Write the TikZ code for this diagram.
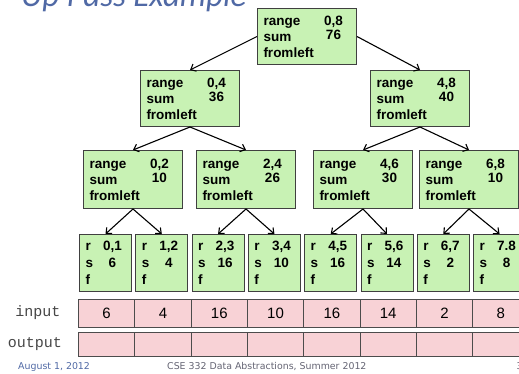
\documentclass[tikz,border=0pt]{standalone}
\usepackage{fontspec}
\setmainfont{Liberation Sans}
\newfontfamily\monofont{Liberation Mono}
\newfontfamily\footfont{DejaVu Sans}
\newfontfamily\titlefont{Carlito}
\usetikzlibrary{arrows.meta}
\definecolor{nodegreen}{RGB}{200,242,180}
\definecolor{cellpink}{RGB}{248,210,214}
\definecolor{titleblue}{RGB}{80,105,165}
\definecolor{footgray}{RGB}{100,100,115}
\definecolor{labelgray}{RGB}{70,70,70}
\newcommand\trow[2]{\makebox[56pt][l]{#1}\makebox[28pt]{#2}}
\newcommand\lrow[2]{\makebox[14pt][l]{#1}\makebox[26pt]{#2}}
\begin{document}
\begin{tikzpicture}[x=1pt,y=-1pt,
  tnode/.style={draw=black!75, line width=1pt, fill=nodegreen, rectangle, anchor=north west,
    inner xsep=6pt, inner ysep=0pt, text width=87pt, minimum height=56pt, align=left,
    font=\fontsize{13.5}{16}\selectfont\bfseries},
  leaf/.style={draw=black!75, line width=1pt, fill=nodegreen, rectangle, anchor=north west,
    inner xsep=6pt, inner ysep=0pt, text width=40pt, minimum height=57pt, align=left,
    font=\fontsize{13.5}{17}\selectfont\bfseries},
  cell/.style={draw=black!70, line width=1pt, fill=cellpink, rectangle, anchor=north west,
    inner sep=0pt, minimum width=56.3pt, font=\fontsize{15}{15}\selectfont},
  rowlabel/.style={inner sep=0pt, font=\monofont\fontsize{15}{15}\selectfont, text=labelgray},
  foot/.style={anchor=base west, inner sep=0pt, font=\footfont\fontsize{9.4}{11}\selectfont},
  arr/.style={-{Straight Barb[length=4.5pt,width=8pt]}, line width=1.1pt, black}
]
\useasboundingbox (0,0) rectangle (519,374);

% title (cut off at top)
\node[anchor=base west, inner sep=0pt, font=\titlefont\itshape\fontsize{33}{33}\selectfont, text=titleblue] (title) at (21,6.5) {Up Pass Example};

% tree nodes
\node[tnode] (root) at (257,8) {\trow{range}{0,8}\\\trow{sum}{\raisebox{1.5pt}{76}}\\fromleft};
\node[tnode] (l) at (140,70) {\trow{range}{0,4}\\\trow{sum}{\raisebox{1.5pt}{36}}\\fromleft};
\node[tnode] (r) at (370,70) {\trow{range}{4,8}\\\trow{sum}{\raisebox{1.5pt}{40}}\\fromleft};
\node[tnode, minimum height=58pt] (ll) at (83,150) {\trow{range}{0,2}\\\trow{sum}{\raisebox{1.5pt}{10}}\\fromleft};
\node[tnode, minimum height=58pt] (lr) at (196,150) {\trow{range}{2,4}\\\trow{sum}{\raisebox{1.5pt}{26}}\\fromleft};
\node[tnode, minimum height=58pt] (rl) at (313,150) {\trow{range}{4,6}\\\trow{sum}{\raisebox{1.5pt}{30}}\\fromleft};
\node[tnode, minimum height=58pt] (rr) at (419,150) {\trow{range}{6,8}\\\trow{sum}{\raisebox{1.5pt}{10}}\\fromleft};

% leaves
\node[leaf] (f1) at (79,234) {\lrow{r}{0,1}\\\lrow{s}{6}\\f};
\node[leaf] (f2) at (135.3,234) {\lrow{r}{1,2}\\\lrow{s}{4}\\f};
\node[leaf] (f3) at (191.6,234) {\lrow{r}{2,3}\\\lrow{s}{16}\\f};
\node[leaf] (f4) at (247.9,234) {\lrow{r}{3,4}\\\lrow{s}{10}\\f};
\node[leaf] (f5) at (304.2,234) {\lrow{r}{4,5}\\\lrow{s}{16}\\f};
\node[leaf] (f6) at (360.5,234) {\lrow{r}{5,6}\\\lrow{s}{14}\\f};
\node[leaf] (f7) at (416.8,234) {\lrow{r}{6,7}\\\lrow{s}{2}\\f};
\node[leaf] (f8) at (473.1,234) {\lrow{r}{7.8}\\\lrow{s}{8}\\f};

% arrows
\draw[arr] (root.west) -- (l.north);
\draw[arr] (root.east) -- (r.north);
\draw[arr] (l.south) -- (ll.north);
\draw[arr] (l.south) -- (lr.north);
\draw[arr] (r.south) -- (rl.north);
\draw[arr] (r.south) -- (rr.north);
\draw[arr] (ll.south) -- (f1.north);
\draw[arr] (ll.south) -- (f2.north);
\draw[arr] (lr.south) -- (f3.north);
\draw[arr] (lr.south) -- (f4.north);
\draw[arr] (rl.south) -- (f5.north);
\draw[arr] (rl.south) -- (f6.north);
\draw[arr] (rr.south) -- (f7.north);
\draw[arr] (rr.south) -- (f8.north);

% input / output arrays
\node[rowlabel] (inlab) at (38,313) {input};
\node[rowlabel] (outlab) at (35,344) {output};
\foreach \v [count=\i from 0] in {6,4,16,10,16,14,2,8} {
  \node[cell, minimum height=28pt] (in\i) at (78+\i*56.3,299) {\v};
  \node[cell, minimum height=24pt] (out\i) at (78+\i*56.3,332) {};
}

% footer
\node[foot, text=titleblue] (date) at (18,369.5) {August 1, 2012};
\node[foot, text=footgray] (course) at (167,369.5) {CSE 332 Data Abstractions, Summer 2012};
\node[foot, text=footgray] (page) at (516.5,369.5) {3};
\end{tikzpicture}
\end{document}
